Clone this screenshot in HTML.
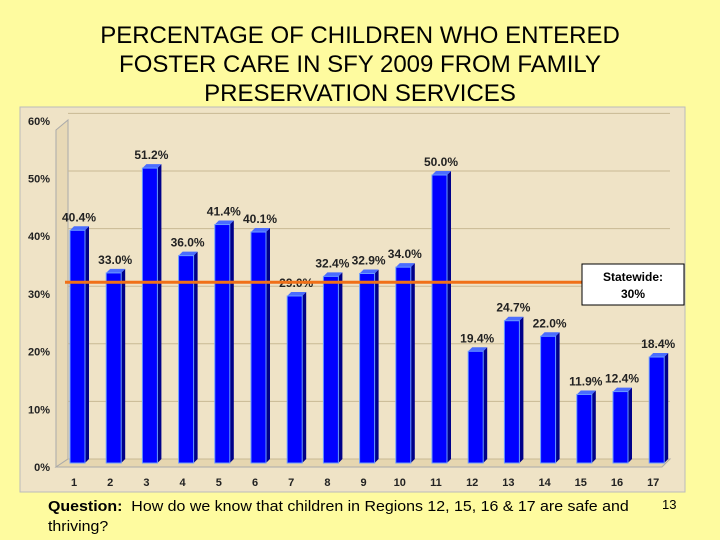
<!DOCTYPE html>
<html><head><meta charset="utf-8"><style>
body{margin:0;width:720px;height:540px;background:#fefb9f;font-family:"Liberation Sans",sans-serif;overflow:hidden;position:relative}
#title{position:absolute;left:0;top:21px;width:720px;text-align:center;font-size:24px;line-height:29px;color:#000}
#q{position:absolute;left:48px;top:497px;font-size:14.5px;line-height:20px;width:600px;transform:scale(1.1,1);transform-origin:0 0}
#pg{position:absolute;left:662px;top:497px;font-size:13px}
</style></head><body>
<div id="title">PERCENTAGE OF CHILDREN WHO ENTERED<br>FOSTER CARE IN SFY 2009 FROM FAMILY<br>PRESERVATION SERVICES</div>
<svg id="c" width="720" height="540" style="position:absolute;left:0;top:0"></svg>
<div id="q"><b>Question:</b>&nbsp; How do we know that children in Regions 12, 15, 16 &amp; 17 are safe and<br>thriving?</div>
<div id="pg">13</div>
<script>
const categories=["1","2","3","4","5","6","7","8","9","10","11","12","13","14","15","16","17"];
const values=[40.4,33.0,51.2,36.0,41.4,40.1,29.0,32.4,32.9,34.0,50.0,19.4,24.7,22.0,11.9,12.4,18.4];
const ticks=[0,10,20,30,40,50,60];
const statewide=30;
const NS="http://www.w3.org/2000/svg";
const svg=document.getElementById('c');
function y(v){return 463-5.76*v;}
function x(i){return 70+36.2*i;}
function mk(t,a,p){const e=document.createElementNS(NS,t);for(const k in a)e.setAttribute(k,a[k]);(p||svg).appendChild(e);return e;}
const bg=mk('rect',{x:20,y:107,width:665,height:385,fill:'#efe3c6',stroke:'#bbb'});


const wall=mk('path',{d:'M56,130 L68,120 L68,459 L56,467 Z',fill:'#e8d9b6',stroke:'#aaa'});


mk('path',{d:'M56,467 L68,459 L670,459 L662,467 Z',fill:'#e6d6b0',stroke:'#aaa'});
ticks.forEach(t=>{
 const g=mk('line',{x1:68,x2:670,y1:y(t)-4,y2:y(t)-4,stroke:'#c8b994','stroke-width':1});
 
 
 const yy=467-5.77*t;
 const l=mk('text',{x:50,y:yy+4,'text-anchor':'end','font-size':11,'font-weight':'bold',fill:'#222'});
 l.textContent=t+'%';
 
 
});
values.forEach((v,i)=>{
 const x0=x(i),w=15,d=4,top=y(v);
 const g=mk('g',{});
 
 
 mk('path',{d:`M${x0+w},${top} L${x0+w+d},${top-4} L${x0+w+d},459 L${x0+w},463 Z`,fill:'#00008a'},g);
 mk('path',{d:`M${x0},${top} L${x0+d},${top-4} L${x0+w+d},${top-4} L${x0+w},${top} Z`,fill:'#4a6cff'},g);
 mk('rect',{x:x0,y:top,width:w,height:463-top,fill:'#0000ff',stroke:'#6a9cff','stroke-width':1},g);
 const l=mk('text',{x:x0+9,y:top-9,'text-anchor':'middle','font-size':12,'font-weight':'bold',fill:'#222'});
 l.textContent=v.toFixed(1)+'%';
 
 
 const c=mk('text',{x:x0+4,y:486,'text-anchor':'middle','font-size':11,'font-weight':'bold',fill:'#222'});
 c.textContent=categories[i];
 
 
});
const sy=y(statewide)-8;
const ln=mk('line',{x1:65,x2:582,y1:sy,y2:sy,stroke:'#f07018','stroke-width':3});


const bx=mk('rect',{x:582,y:264,width:102,height:41,fill:'#fff',stroke:'#000'});


[['Statewide:',281],['30%',298]].forEach(([t,yy])=>{
 const e=mk('text',{x:633,y:yy,'text-anchor':'middle','font-size':12,'font-weight':'bold'});
 e.textContent=t;
 
 
});
</script>
</body></html>
